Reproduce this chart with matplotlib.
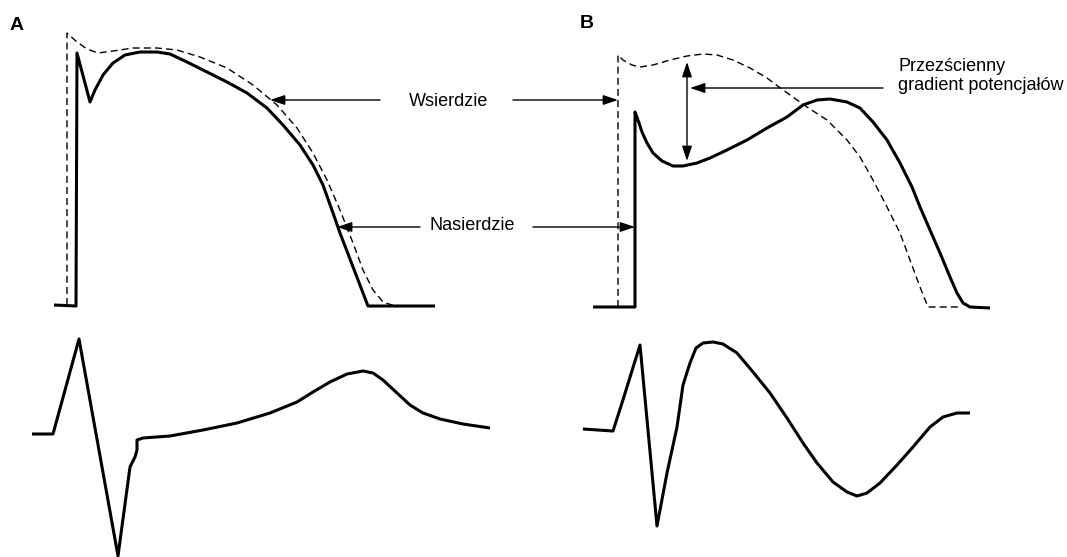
import matplotlib
matplotlib.use("Agg")
import matplotlib.pyplot as plt

# ---- Panel A: action potentials (pixel-space readings) ----
a_solid_x = [54, 76, 77, 90, 95, 103, 113, 125, 140, 157, 170, 187, 207, 227, 247, 267, 283, 300, 313,
             323, 333, 340, 368, 435]
a_solid_y = [305, 306, 53, 102, 90, 75, 63, 55, 52, 52, 54, 62, 72, 82, 93, 108, 125, 145, 165,
             185, 213, 233, 306, 306]

a_dash_x = [67, 67, 77, 87, 98, 113, 133, 157, 177, 200, 227, 253, 277, 297, 313, 327, 340, 353, 363,
            373, 383, 392, 400]
a_dash_y = [305, 33, 42, 49, 53, 51, 48, 48, 50, 57, 68, 85, 105, 128, 153, 180, 210, 243, 270,
            290, 302, 305, 306]

# ---- Panel B: action potentials ----
b_solid_x = [593, 635, 635, 638, 642, 647, 653, 662, 673, 683, 697, 710, 727, 747, 767, 787, 803, 817,
             830, 847, 860, 873, 887, 900, 912, 920, 930, 940, 950, 957, 963, 970, 990]
b_solid_y = [307, 307, 112, 120, 132, 143, 153, 161, 166, 166, 163, 158, 150, 140, 128, 117, 105, 100,
             99, 102, 108, 122, 140, 163, 187, 207, 230, 253, 277, 293, 303, 307, 308]

b_dash_x = [618, 618, 623, 632, 640, 653, 670, 687, 703, 717, 733, 750, 767, 783, 807, 827, 847, 860,
            873, 887, 900, 910, 920, 928, 960]
b_dash_y = [307, 55, 60, 65, 67, 65, 60, 56, 54, 55, 60, 68, 78, 90, 107, 120, 140, 157,
            180, 207, 233, 260, 287, 307, 307]

# ---- ECG traces ----
a_ecg_x = [32, 53, 79, 118, 130, 135, 137, 137, 143, 170, 203, 237, 270, 297, 313, 330, 347, 363, 373,
           383, 397, 410, 423, 440, 463, 490]
a_ecg_y = [434, 434, 339, 556, 467, 457, 450, 440, 438, 436, 430, 423, 413, 402, 392, 382, 374, 371, 373,
           380, 393, 405, 413, 419, 424, 428]

b_ecg_x = [583, 613, 622, 640, 657, 667, 677, 683, 690, 696, 703, 713, 723, 737, 753, 770, 787, 803,
           817, 833, 847, 857, 867, 880, 897, 913, 930, 943, 957, 970]
b_ecg_y = [429, 431, 403, 345, 526, 473, 427, 385, 363, 348, 343, 342, 344, 353, 372, 393, 418, 443,
           463, 482, 492, 496, 493, 483, 465, 447, 427, 417, 413, 413]

labels = ["Wsierdzie", "Nasierdzie", "Przezścienny\ngradient potencjałów"]
panel_letters = ["A", "B"]

fig = plt.figure(figsize=(10.67, 5.57), dpi=100)
ax = fig.add_axes([0, 0, 1, 1])
ax.set_xlim(0, 1067)
ax.set_ylim(557, 0)
ax.axis("off")

solid_kw = dict(color="black", lw=2.2, solid_joinstyle="round", solid_capstyle="butt")
dash_kw = dict(color="black", lw=1.0, linestyle=(0, (5, 3)))

ax.plot(a_dash_x, a_dash_y, **dash_kw)
ax.plot(a_solid_x, a_solid_y, **solid_kw)
ax.plot(b_dash_x, b_dash_y, **dash_kw)
ax.plot(b_solid_x, b_solid_y, **solid_kw)
ax.plot(a_ecg_x, a_ecg_y, **solid_kw)
ax.plot(b_ecg_x, b_ecg_y, **solid_kw)

font = ["Liberation Sans", "DejaVu Sans"]
arrow = dict(arrowstyle="-|>,head_length=0.9,head_width=0.3", color="black", lw=1.0,
             shrinkA=0, shrinkB=0)

# Wsierdzie
ax.text(449, 102, labels[0], ha="center", va="center", fontsize=13, family=font)
ax.annotate("", xy=(270, 100), xytext=(380, 100), arrowprops=arrow)
ax.annotate("", xy=(618, 100), xytext=(513, 100), arrowprops=arrow)

# Nasierdzie
ax.text(472, 226, labels[1], ha="center", va="center", fontsize=13, family=font)
ax.annotate("", xy=(337, 227), xytext=(420, 227), arrowprops=arrow)
ax.annotate("", xy=(635, 227), xytext=(533, 227), arrowprops=arrow)

# Transmural gradient
ax.text(898, 76, labels[2], ha="left", va="center", fontsize=13, family=font, linespacing=1.15)
ax.annotate("", xy=(690, 88), xytext=(883, 88), arrowprops=arrow)
ax.annotate("", xy=(687, 62), xytext=(687, 161),
            arrowprops=dict(arrowstyle="<|-|>,head_length=0.9,head_width=0.3", color="black",
                            lw=1.0, shrinkA=0, shrinkB=0))

ax.text(10, 26, panel_letters[0], ha="left", va="center", fontsize=14, fontweight="bold",
        family=font)
ax.text(580, 24, panel_letters[1], ha="left", va="center", fontsize=14, fontweight="bold",
        family=font)

fig.savefig("out.png", dpi=100)
